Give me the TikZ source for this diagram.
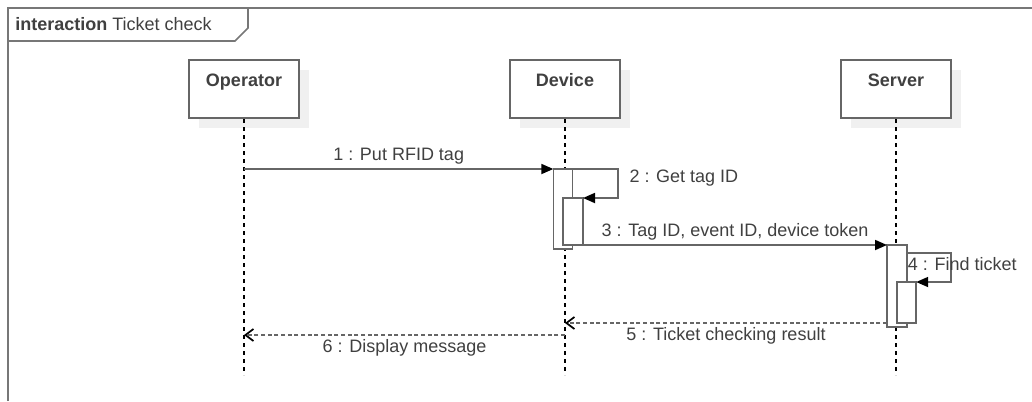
\documentclass[tikz,border=0pt]{standalone}
\usepackage{fontspec}
\setmainfont{Liberation Sans}
\usetikzlibrary{arrows.meta, shadows}
\definecolor{linegray}{HTML}{666666}
\definecolor{framegray}{HTML}{777777}
\definecolor{textgray}{HTML}{404040}

\begin{document}
\begin{tikzpicture}
[
	x=0.75pt, y=-0.75pt,
	every node/.style = {font=\fontsize{13.5}{16}\selectfont, text=textgray},
	head/.style = {draw=linegray, line width=1.5pt, fill=white, rectangle, minimum width=82.5pt, inner sep=0pt,
		text height=19.5pt, text depth=24pt, font=\fontsize{13.5}{16}\selectfont\bfseries,
		drop shadow={shadow xshift=7.5pt, shadow yshift=-7.5pt, fill=black!6, opacity=1}},
	act/.style = {draw=linegray, line width=1.2pt, fill=white, rectangle, inner sep=0pt, outer sep=0pt, minimum width=14.5pt},
	life/.style = {dash pattern=on 3pt off 3pt, line width=0.9pt, black},
	call/.style = {draw=linegray, line width=1.3pt, -{Triangle[length=9pt, width=7.5pt, black]}},
	reply/.style = {draw=linegray, line width=1.3pt, dash pattern=on 3pt off 2pt, -{Straight Barb[length=6pt, width=9pt, black]}},
	msg/.style = {inner sep=3pt}
]
\useasboundingbox (0,0) rectangle (1032,401);

% frame with its name tab
\draw[framegray, line width=1.5pt] (8,401) -- (8,8) -- (1032,8);
\draw[framegray, line width=1.2pt] (8,41) -- (235,41) -- (248,28) -- (248,8);
\node[anchor=base west, inner sep=3pt] (frametitle) at (11,30) {\textbf{interaction} Ticket check};

% lifelines
\node[head] (operator) at (244,89) {Operator};
\node[head] (device) at (565,89) {Device};
\node[head] (server) at (896,89) {Server};
\coordinate (lifeend) at (0,375);
\draw[life] (operator.south) -- (operator |- lifeend);
\draw[life] (device.south) -- (device |- lifeend);
\draw[life] (server.south) -- (server |- lifeend);

% activations
\node[act, minimum height=60pt] (act1) at (563,209) {};
\node[act, minimum width=15pt, minimum height=35.25pt] (act2) at (573,221.5) {};
\node[act, minimum width=15pt, minimum height=61.5pt] (act3) at (897,286) {};
\node[act, minimum height=30.75pt] (act4) at (906.5,302.5) {};

% messages
\draw[call] (operator |- act1.north west) -- node[msg, above] {1 : Put RFID tag} (act1.north west);
\draw[call] (act1.north east) -- ++(45,0) node[msg, anchor=base west, xshift=5.25pt, yshift=-9.75pt] {2 : Get tag ID} |- (act2.north east);
\draw[call] (act2.south east) -- node[msg, above] {3 : Tag ID, event ID, device token} (act3.north west);
\coordinate (s4) at ([yshift=-6pt]act3.north east);
\draw[call] (s4) node[msg, anchor=base west, xshift=-3pt, yshift=-12.75pt] {4 : Find ticket} -- ++(44,0) |- (act4.north east);
\draw[reply] (act4.south -| act3.west) -- node[msg, below] {5 : Ticket checking result} (device |- act4.south);
\coordinate (r6) at (0,335);
\draw[reply] (device |- r6) -- node[msg, below] {6 : Display message} (operator |- r6);
\end{tikzpicture}
\end{document}
